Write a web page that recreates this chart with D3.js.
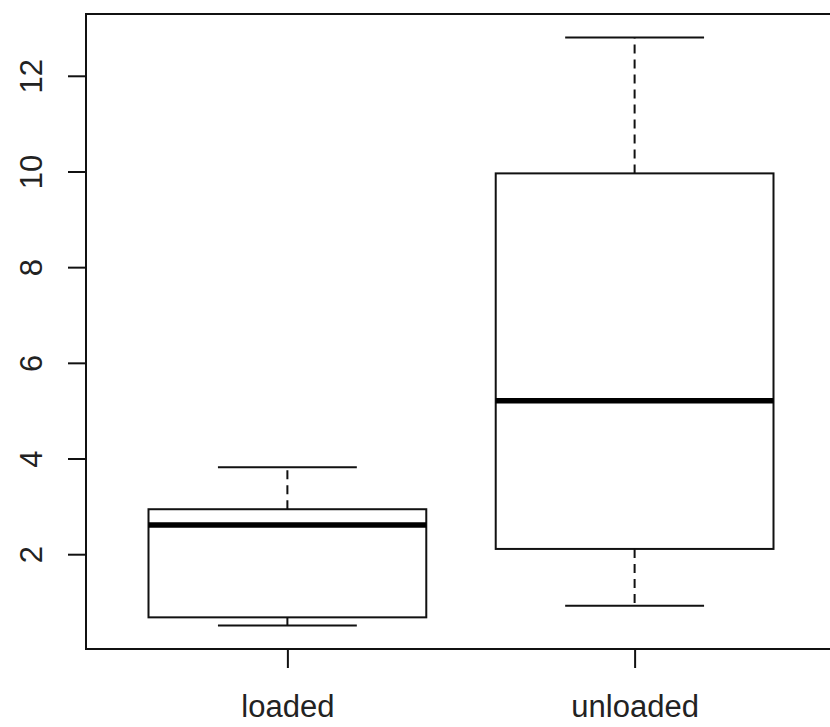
<!DOCTYPE html>
<html>
<head>
<meta charset="utf-8">
<script src="https://cdn.jsdelivr.net/npm/d3@7"></script>
<style>
  html, body { margin: 0; background: #fff; overflow: hidden; }
  svg { display: block; overflow: hidden; font-family: "Liberation Sans", Arial, sans-serif; }
</style>
</head>
<body>
<svg width="830" height="727"></svg>
<script>
var groups = ["loaded", "unloaded"]
var mins = [0.51, 0.92]
var q1s = [0.68, 2.11]
var medians = [2.61, 5.21]
var q3s = [2.94, 9.96]
var maxs = [3.82, 12.80]
var yTicks = [2, 4, 6, 8, 10, 12]

var svg = d3.select("svg")

// R style: 4% padding on both axes
var lo = d3.min(mins), hi = d3.max(maxs)
var pad = (hi - lo) * 0.04
var y = d3.scaleLinear().domain([lo - pad, hi + pad]).range([649, 14])
var x = d3.scaleLinear().domain([0.42, groups.length + 0.58]).range([86, 836])

var boxes = groups.map(function(g, i) {
  return { name: g, pos: i + 1, min: mins[i], q1: q1s[i], med: medians[i], q3: q3s[i], max: maxs[i] }
})

// frame (right side falls outside the picture, as in the original)
var x0 = x(0.42), x1 = x(groups.length + 0.58)
var yTop = y(hi + pad), yBot = y(lo - pad)
svg.append("path")
  .attr("d", "M" + x1 + "," + yTop + "H" + x0 + "V" + yBot + "H" + x1)
  .attr("fill", "none").attr("stroke", "#111").attr("stroke-width", 2)

var bw = 0.4, cw = 0.2
var g = svg.selectAll("g.box")
    .data(boxes)
    .enter()
  .append("g")
    .attr("class", "box")

// whiskers
g.append("line")
  .attr("x1", d => x(d.pos)).attr("x2", d => x(d.pos))
  .attr("y1", d => y(d.q3)).attr("y2", d => y(d.max))
  .attr("stroke", "#111").attr("stroke-width", 2).attr("stroke-dasharray", "9,6")
g.append("line")
  .attr("x1", d => x(d.pos)).attr("x2", d => x(d.pos))
  .attr("y1", d => y(d.q1)).attr("y2", d => y(d.min))
  .attr("stroke", "#111").attr("stroke-width", 2).attr("stroke-dasharray", "9,6")

// caps
;["min", "max"].forEach(function(k) {
  g.append("line")
    .attr("x1", d => x(d.pos - cw)).attr("x2", d => x(d.pos + cw))
    .attr("y1", d => y(d[k])).attr("y2", d => y(d[k]))
    .attr("stroke", "#111").attr("stroke-width", 2)
})

// box
g.append("rect")
  .attr("x", d => x(d.pos - bw))
  .attr("width", d => x(d.pos + bw) - x(d.pos - bw))
  .attr("y", d => y(d.q3))
  .attr("height", d => y(d.q1) - y(d.q3))
  .attr("fill", "#fff").attr("stroke", "#111").attr("stroke-width", 2)

// median
g.append("line")
  .attr("x1", d => x(d.pos - bw)).attr("x2", d => x(d.pos + bw))
  .attr("y1", d => y(d.med)).attr("y2", d => y(d.med))
  .attr("stroke", "#000").attr("stroke-width", 5.5)

// y axis
var yAxis = svg.append("g")
  .attr("transform", "translate(" + x0 + ",0)")
  .call(d3.axisLeft(y).tickValues(yTicks).tickSize(18))
yAxis.select(".domain").remove()
yAxis.selectAll(".tick line").attr("stroke", "#111").attr("stroke-width", 2)
yAxis.selectAll(".tick text")
  .attr("x", 0).attr("dy", 0)
  .attr("transform", "translate(-44,0) rotate(-90)")
  .attr("text-anchor", "middle")
  .attr("fill", "#222")
  .style("font-size", "31px")
  .style("font-family", "'Liberation Sans', Arial, sans-serif")

// x axis
var xAxis = svg.append("g")
  .attr("transform", "translate(0," + yBot + ")")
  .call(d3.axisBottom(x).tickValues(boxes.map(d => d.pos)).tickSize(19)
    .tickFormat((d, i) => groups[i]))
xAxis.select(".domain").remove()
xAxis.selectAll(".tick line").attr("stroke", "#111").attr("stroke-width", 2)
xAxis.selectAll(".tick text")
  .attr("y", 68).attr("dy", 0)
  .attr("fill", "#222")
  .style("font-size", "31px")
  .style("font-family", "'Liberation Sans', Arial, sans-serif")
</script>
</body>
</html>
